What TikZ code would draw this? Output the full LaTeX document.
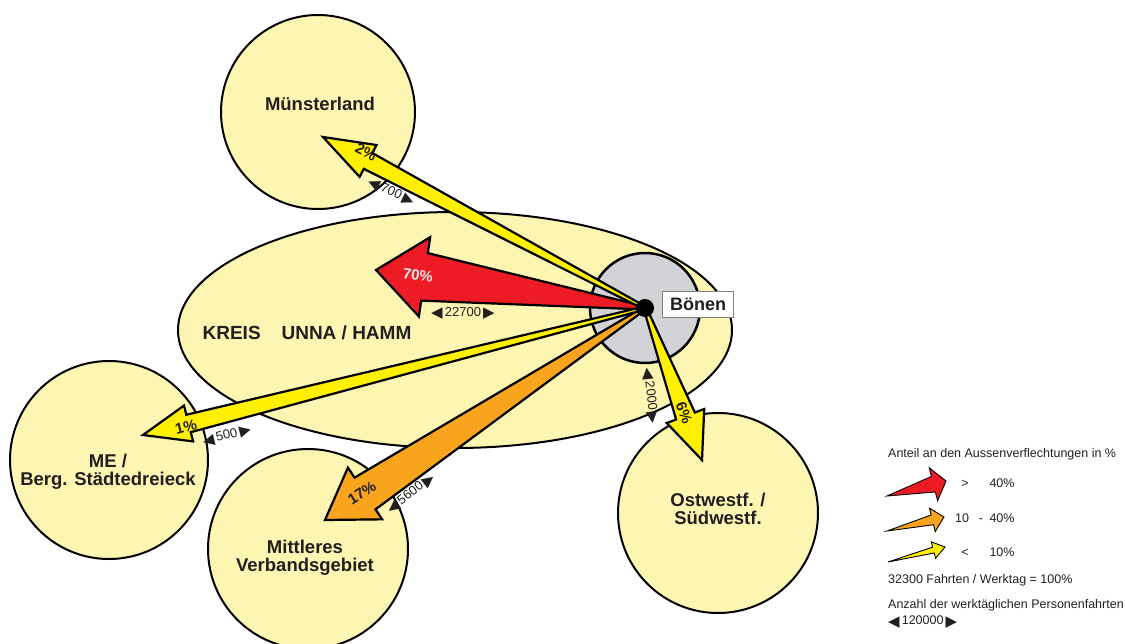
\documentclass[tikz,border=0pt]{standalone}
\usepackage{fontspec}
\setmainfont{Liberation Sans}
\newfontfamily\symfont{DejaVu Sans}
\usetikzlibrary{calc}
\definecolor{regionyellow}{HTML}{FDF5B2}
\definecolor{arrowyellow}{HTML}{FFEF00}
\definecolor{arrowred}{HTML}{ED1C24}
\definecolor{arroworange}{HTML}{F8A51D}
\definecolor{centergray}{HTML}{D2D3D7}
\definecolor{textdark}{HTML}{231F20}
\newcommand\trL{\raisebox{-1.2pt}{\symfont\fontsize{15}{15}\selectfont ◀}}
\newcommand\trR{\raisebox{-1.2pt}{\symfont\fontsize{15}{15}\selectfont ▶}}
% #1 style, #2 tail, #3 tip, #4 head length, #5 shaft half width, #6 head half width, #7 tail half width
\newcommand\flowarrow[7][]{%
  \path ($(#3)!#4!(#2)$) coordinate (hb);
  \filldraw[line width=2.2pt, line join=miter, #1]
    ($(#2)!#7!90:(#3)$) -- ($(hb)!#5!-90:(#2)$) -- ($(hb)!#6!-90:(#2)$) -- (#3)
    -- ($(hb)!#6!90:(#2)$) -- ($(hb)!#5!90:(#2)$) -- ($(#2)!#7!-90:(#3)$) -- cycle;
}
\tikzset{
  region/.style={draw=black, line width=2pt, fill=regionyellow},
  regname/.style={font=\bfseries\fontsize{18.5}{19}\selectfont, align=center, text=textdark, inner sep=0pt},
  pct/.style={font=\bfseries\fontsize{15}{16}\selectfont, text=textdark, inner sep=0pt},
  count/.style={font=\fontsize{13}{14}\selectfont, text=textdark, inner sep=0pt},
  legend/.style={font=\fontsize{12.5}{14}\selectfont, text=textdark, anchor=west, inner sep=0pt},
  legitem/.style={font=\fontsize{12.5}{14}\selectfont, text=textdark, anchor=base, inner sep=0pt},
}
\begin{document}
\begin{tikzpicture}[x=1pt,y=-1pt]
\useasboundingbox (0,0) rectangle (1125,643);
\clip (0,0) rectangle (1125,643);
% regions
\draw[region] (455,330) ellipse[x radius=277pt, y radius=118pt];
\draw[region] (318,112) circle[radius=97pt];
\draw[region] (109,460) circle[radius=99pt];
\draw[region] (308,549) circle[radius=100pt];
\draw[region] (718,513) circle[radius=100pt];
\draw[draw=black, line width=2.5pt, fill=centergray] (645,308) circle[radius=55pt];

\node[regname] (muenster) at (320,104) {Münsterland};
\node[regname] (me) at (108,472) {ME /\\[-1pt]Berg. Städtedreieck};
\node[regname] (mittel) at (305,558) {Mittleres\\[-1pt]Verbandsgebiet};
\node[regname] (ost) at (718,509) {Ostwestf. /\\[-1pt]Südwestf.};
\node[regname, font=\bfseries\fontsize{19}{20}\selectfont] (kreis) at (307,333) {KREIS\hspace{1.1em}UNNA / HAMM};

% flows
\coordinate (boenen) at (645,308);
\coordinate (tipMuen) at (323,137);
\coordinate (tipKreis) at (376,270);
\coordinate (tipME) at (143,435);
\coordinate (tipMittel) at (325,520);
\coordinate (tipOst) at (702,460);

\flowarrow[fill=arrowred]{boenen}{tipKreis}{49pt}{24pt}{40pt}{1.5pt}
\flowarrow[fill=arroworange]{boenen}{tipMittel}{48pt}{19pt}{31pt}{1.5pt}
\flowarrow[fill=arrowyellow]{boenen}{tipME}{47pt}{9pt}{18.5pt}{1.5pt}
\flowarrow[fill=arrowyellow]{boenen}{tipMuen}{51pt}{9pt}{18pt}{1.5pt}
\flowarrow[fill=arrowyellow]{boenen}{tipOst}{47pt}{10pt}{20pt}{1.5pt}

\fill[black] (boenen) circle[radius=9pt];
\node[draw=gray, line width=1pt, fill=white, font=\bfseries\fontsize{18}{19}\selectfont, text=textdark,
      minimum width=71pt, minimum height=26pt, inner sep=2pt] (boenenlabel) at (698,304) {Bönen};

% percentages
\node[pct, rotate=-28] (p2) at (366,152) {2\%};
\node[pct, rotate=-8, text=black!8] (p70) at (418,275) {70\%};
\node[pct, rotate=14] (p1) at (186,427) {1\%};
\node[pct, rotate=33] (p17) at (362,493) {17\%};
\node[pct, rotate=-69] (p6) at (684,413) {6\%};

% counts
\node[count, rotate=-25] (c700) at (391,192) {\trL\,700\,\trR};
\node[count] (c22700) at (463,313) {\trL\,22700\,\trR};
\node[count, rotate=14] (c500) at (227,436) {\trL\,500\,\trR};
\node[count, rotate=38] (c5600) at (411,494) {\trL\,5600\,\trR};
\node[count, rotate=-84] (c2000) at (650,396) {\trL\,2000\,\trR};

% legend
\node[legend] (lgtitle) at (888,454) {Anteil an den Aussenverflechtungen in \%};
\coordinate (lgRt) at (887,496); \coordinate (lgRh) at (946,481);
\coordinate (lgOt) at (887,531); \coordinate (lgOh) at (944,517);
\coordinate (lgYt) at (888,562); \coordinate (lgYh) at (945,547);
\flowarrow[fill=arrowred, line width=0.9pt]{lgRt}{lgRh}{13pt}{8pt}{17pt}{0pt}
\flowarrow[fill=arroworange, line width=0.9pt]{lgOt}{lgOh}{12pt}{5pt}{12pt}{0pt}
\flowarrow[fill=arrowyellow, line width=0.9pt]{lgYt}{lgYh}{12pt}{3pt}{8.5pt}{0pt}
\node[legitem] (lgg) at (965,487) {>};
\node[legitem] (lg40a) at (1002,487) {40\%};
\node[legitem] (lg10a) at (962,522) {10};
\node[legitem] (lgdash) at (981,522) {-};
\node[legitem] (lg40b) at (1002,522) {40\%};
\node[legitem] (lgl) at (965,556) {<};
\node[legitem] (lg10b) at (1002,556) {10\%};
\node[legend] (lgtotal) at (888,580) {32300 Fahrten / Werktag = 100\%};
\node[legend] (lganz) at (888,605) {Anzahl der werktäglichen Personenfahrten};
\node[legend] (lgscale) at (888,622) {\trL\,120000\,\trR};
\end{tikzpicture}
\end{document}
